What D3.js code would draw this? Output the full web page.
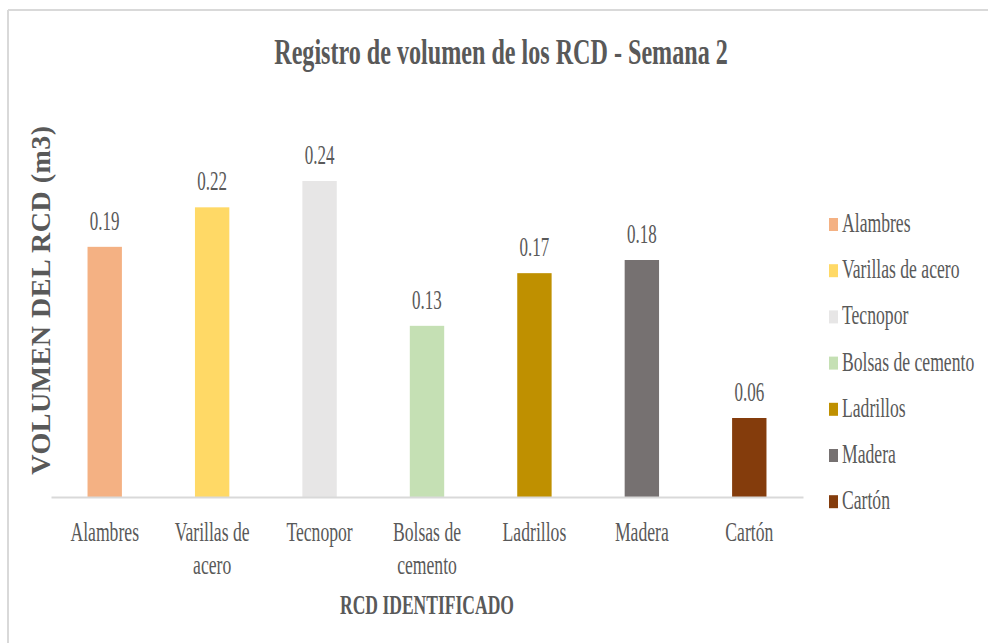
<html>
<head>
<meta charset="utf-8">
<script src="https://d3js.org/d3.v7.min.js"></script>
<style>
body { margin: 0; background: #fff; }
svg text { font-family: 'Liberation Serif', 'DejaVu Serif', serif; fill: #595959; }
</style>
</head>
<body>
<div id="chart"></div>
<script>
// data
var categories = ["Alambres", "Varillas de acero", "Tecnopor", "Bolsas de cemento", "Ladrillos", "Madera", "Cartón"];
var tickLabels = [["Alambres"], ["Varillas de", "acero"], ["Tecnopor"], ["Bolsas de", "cemento"], ["Ladrillos"], ["Madera"], ["Cartón"]];
var volumes = [0.19, 0.22, 0.24, 0.13, 0.17, 0.18, 0.06];
var colors = ["#F4B183", "#FFD966", "#E7E6E6", "#C5E0B4", "#BF9000", "#767171", "#843C0C"];

var W = 988, H = 643;
// text in the reference is squeezed horizontally
var sx = 0.63;

var svg = d3.select("#chart").append("svg")
    .attr("width", W)
    .attr("height", H)
    .attr("font-family", "'Liberation Serif', 'DejaVu Serif', serif");

// chart frame (top and left edges visible)
svg.append("line").attr("x1", 8).attr("x2", W).attr("y1", 10).attr("y2", 10)
    .attr("stroke", "#d9d9d9").attr("stroke-width", 2);
svg.append("line").attr("x1", 8).attr("x2", 8).attr("y1", 10).attr("y2", H)
    .attr("stroke", "#d9d9d9").attr("stroke-width", 2);

var x = d3.scaleBand()
    .domain(categories)
    .range([51, 803])
    .paddingInner(0.68)
    .paddingOuter(0.34);

var y = d3.scaleLinear()
    .domain([0, 0.3])
    .range([497, 102]);

function squeezed(sel, px, py, s) {
    return sel.attr("transform", "translate(" + px + "," + py + ") scale(" + s + ",1)");
}

// title
squeezed(svg.append("text"), 501, 64, 0.67)
    .attr("text-anchor", "middle")
    .style("font-size", "36px")
    .style("font-weight", "bold")
    .text("Registro de volumen de los RCD - Semana 2");

// bars
svg.selectAll(".bar")
    .data(volumes)
    .enter()
    .append("rect")
    .attr("class", "bar")
    .attr("x", function(d, i) { return x(categories[i]); })
    .attr("width", x.bandwidth())
    .attr("y", function(d) { return y(d); })
    .attr("height", function(d) { return y(0) - y(d); })
    .attr("fill", function(d, i) { return colors[i]; });

// value labels
svg.selectAll(".val")
    .data(volumes)
    .enter()
    .append("text")
    .attr("class", "val")
    .attr("text-anchor", "middle")
    .style("font-size", "27px")
    .attr("transform", function(d, i) {
        return "translate(" + (x(categories[i]) + x.bandwidth() / 2) + "," + (y(d) - 17) + ") scale(" + sx + ",1)";
    })
    .text(function(d) { return d.toFixed(2); });

// x axis
var xAxis = svg.append("g")
    .attr("transform", "translate(0," + y(0) + ")")
    .call(d3.axisBottom(x).tickSize(0).tickFormat(""));
xAxis.select(".domain").attr("stroke", "#d9d9d9").attr("stroke-width", 2);

var ticks = svg.selectAll(".tick-label")
    .data(tickLabels)
    .enter()
    .append("text")
    .attr("class", "tick-label")
    .attr("text-anchor", "middle")
    .style("font-size", "28px")
    .attr("transform", function(d, i) {
        return "translate(" + (x(categories[i]) + x.bandwidth() / 2) + "," + (y(0) + 44) + ") scale(" + sx + ",1)";
    });
ticks.selectAll("tspan")
    .data(function(d) { return d; })
    .enter()
    .append("tspan")
    .attr("x", 0)
    .attr("dy", function(d, i) { return i === 0 ? 0 : 33; })
    .text(function(d) { return d; });

// axis titles
squeezed(svg.append("text"), 427, 614, 0.65)
    .attr("text-anchor", "middle")
    .style("font-size", "27px")
    .style("font-weight", "bold")
    .text("RCD IDENTIFICADO");

svg.append("text")
    .attr("transform", "translate(50,300) rotate(-90)")
    .attr("text-anchor", "middle")
    .style("font-size", "28px")
    .style("font-weight", "bold")
    .style("letter-spacing", "0.5px")
    .text("VOLUMEN DEL RCD (m3)");

// legend
var legend = svg.selectAll(".legend")
    .data(categories)
    .enter()
    .append("g")
    .attr("class", "legend")
    .attr("transform", function(d, i) { return "translate(829," + (225 + i * 46.2) + ")"; });
legend.append("rect")
    .attr("x", 0)
    .attr("y", -7)
    .attr("width", 9)
    .attr("height", 13)
    .attr("fill", function(d, i) { return colors[i]; });
legend.append("text")
    .attr("transform", "translate(13,7) scale(" + sx + ",1)")
    .style("font-size", "28px")
    .text(function(d) { return d; });
</script>
</body>
</html>
